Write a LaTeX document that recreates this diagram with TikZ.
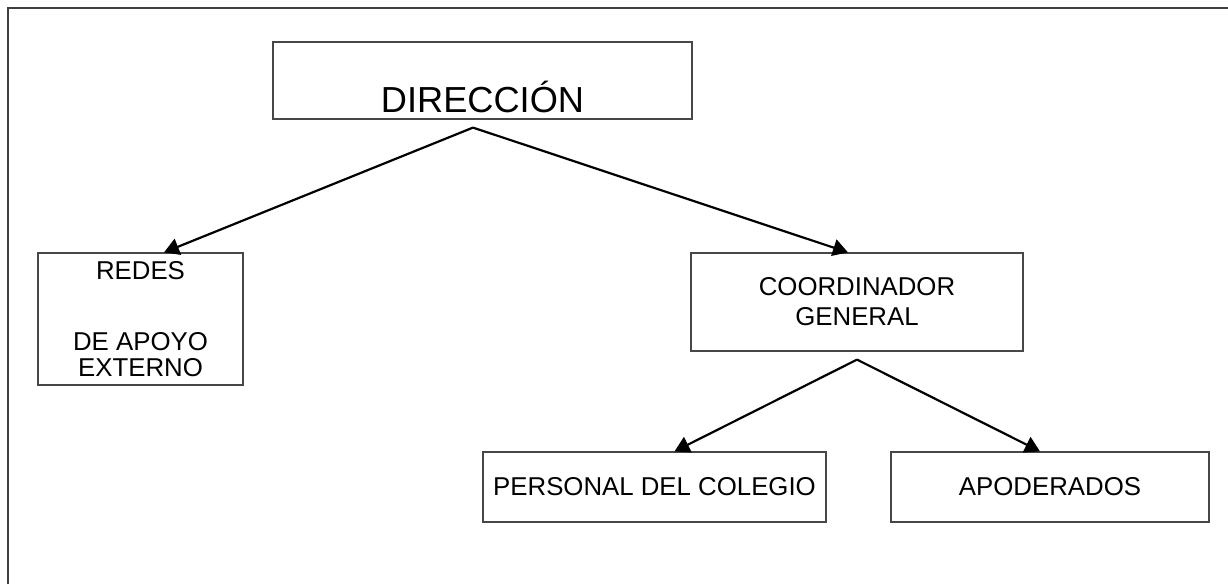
\documentclass[tikz,border=0pt]{standalone}
\usepackage{fontspec}
\setmainfont{Liberation Sans}
\usetikzlibrary{arrows.meta}
\tikzset{
  box/.style={draw=black!72, line width=1.2pt, inner sep=0pt, align=center,
    font=\fontsize{25.8}{30}\selectfont},
  link/.style={draw=black, line width=2.2pt, -{Triangle[length=15pt,width=17pt]}},
  frame/.style={draw=black!75, line width=1.5pt}
}
\begin{document}
\begin{tikzpicture}[x=1pt,y=-1pt]
\useasboundingbox (0,0) rectangle (1228,584);
\draw[frame] (8,584) -- (8,8) -- (1228,8);

\node[box, anchor=base, text height=70pt, text depth=7pt, minimum width=419pt,
      font=\fontsize{36.2}{40}\selectfont] (dir) at (482.5,112) {DIRECCIÓN};

\node[box, minimum width=205pt, minimum height=132pt,
      font=\fontsize{25.8}{25.5}\selectfont] (redes) at (140.5,319)
      {REDES\\[45.5pt]DE APOYO\\EXTERNO};

\node[box, minimum width=332pt, minimum height=98pt] (coord) at (857,302)
      {COORDINADOR\\GENERAL};

\node[box, minimum width=343pt, minimum height=70pt] (pers) at (654.5,487)
      {PERSONAL DEL COLEGIO};

\node[box, minimum width=318pt, minimum height=70pt] (apod) at (1050,487)
      {APODERADOS};

\coordinate (dapex) at ([xshift=-9.5pt,yshift=-8pt]dir.south);
\coordinate (capex) at ([yshift=-8pt]coord.south);

\draw[link] (dapex) -- ([xshift=23.5pt]redes.north);
\draw[link] (dapex) -- ([xshift=-9pt]coord.north);
\draw[link] (capex) -- ([xshift=20pt]pers.north);
\draw[link] (capex) -- ([xshift=-10pt]apod.north);
\end{tikzpicture}
\end{document}
